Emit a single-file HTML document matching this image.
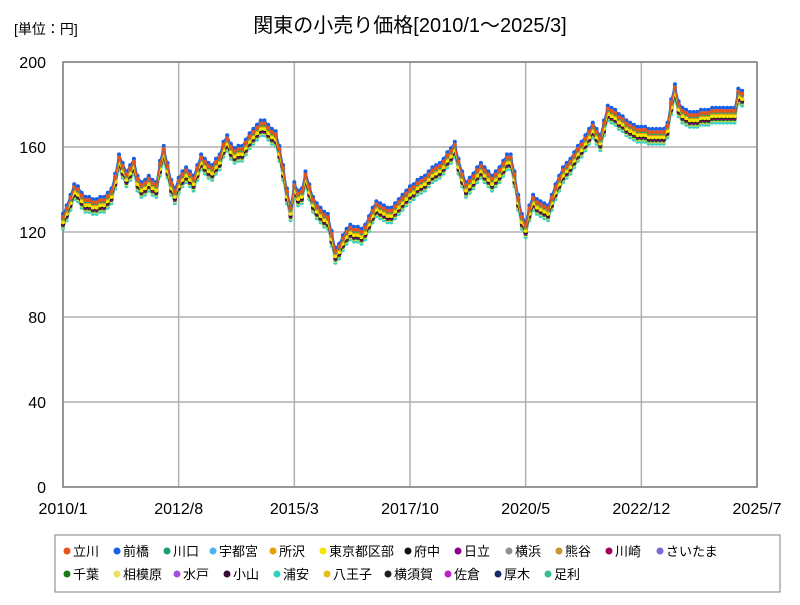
<!DOCTYPE html>
<html><head><meta charset="utf-8">
<style>
body{margin:0;background:#fff;}
#wrap{position:relative;width:800px;height:600px;font-family:"Liberation Sans","Noto Sans CJK JP",sans-serif;}
svg text{font-family:"Liberation Sans","Noto Sans CJK JP",sans-serif;}
</style></head>
<body>
<div id="wrap">
<svg id="chart" width="800" height="600"></svg>
</div>
<script>
const categoriesStart = [2010, 1];
const xTickLabels = ["2010/1","2012/8","2015/3","2017/10","2020/5","2022/12","2025/7"];
const yTickLabels = [0,40,80,120,160,200];
const seriesNames = ["立川","前橋","川口","宇都宮","所沢","東京都区部","府中","日立","横浜","熊谷","川崎","さいたま","千葉","相模原","水戸","小山","浦安","八王子","横須賀","佐倉","厚木","足利"];
const seriesColors = ["#e8541c","#1a5fe8","#1a9e77","#4fb3f0","#e8a000","#f5e400","#111111","#8a008a","#909090","#c8962a","#a0005a","#7a68d8","#1a7a1a","#f0e060","#a050e0","#3a0a3a","#30d0c0","#e0c020","#202020","#c020c0","#1a2a6a","#30c090"];
const seriesOffsets = [1,2.5,0.5,2,0,-1.5,-2,-2.5,0,-1,-0.5,0.5,-3,-3.5,-1.5,-2.5,-4.5,-1,-2,-1.5,0.5,1];
const baseValues = [
126,130,135,140,139,136,134,134,133,133,134,134,
136,138,145,154,150,146,149,152,144,141,142,144,
142,141,151,158,150,142,138,143,146,148,146,144,
149,154,152,150,149,152,154,160,163,159,157,158,
158,161,164,166,168,170,170,168,166,165,158,149,
138,130,141,137,138,146,140,134,131,129,127,126,
118,110,112,116,119,121,120,120,119,121,125,129,
132,131,130,129,129,131,133,135,137,139,140,142,
143,144,146,148,149,150,152,155,157,160,152,146,
141,143,145,148,150,148,146,144,146,148,151,154,
154,146,135,126,122,130,135,133,132,131,130,135,
140,144,148,150,152,155,158,160,163,166,169,166,
163,170,177,176,175,173,172,170,169,168,167,167,
167,166,166,166,166,166,169,180,187,179,176,175,
174,174,174,175,175,175,176,176,176,176,176,176,
176,185,184];

const NS="http://www.w3.org/2000/svg";
const svg=document.getElementById('chart');
const X0=63,X1=757,Y0=487,Y1=62,TOTALM=186;
function xs(m){return X0+(X1-X0)*m/TOTALM;}
function ys(v){return Y0-(Y0-Y1)*v/200;}
function mk(tag,attrs,parent){const e=document.createElementNS(NS,tag);for(const k in attrs)e.setAttribute(k,attrs[k]);(parent||svg).appendChild(e);return e;}

yTickLabels.forEach(v=>{
  const l=mk('line',{x1:X0,x2:X1,y1:ys(v),y2:ys(v),stroke:'#b0b0b0','stroke-width':1.5});
  
  
  const t=mk('text',{x:46,y:ys(v)+6,'text-anchor':'end','font-size':16,fill:'#000'});
  t.textContent=v;
  
  
});
xTickLabels.forEach((s,i)=>{
  const p=s.split('/');const m=(+p[0]-categoriesStart[0])*12+(+p[1]-categoriesStart[1]);
  const l=mk('line',{x1:xs(m),x2:xs(m),y1:Y1,y2:Y0,stroke:'#b0b0b0','stroke-width':1.5});
  
  
  const t=mk('text',{x:xs(m),y:514,'text-anchor':'middle','font-size':16,fill:'#000'});
  t.textContent=s;
  
  
});
const frame=mk('rect',{x:X0,y:Y1,width:X1-X0,height:Y0-Y1,fill:'none',stroke:'#808080','stroke-width':1.5});



for(let si=seriesNames.length-1;si>=0;si--){
  const g=mk('g',{});
  
  
  const pts=baseValues.map((v,i)=>[xs(i),ys(v+seriesOffsets[si])]);
  const pl=mk('polyline',{points:pts.map(p=>p[0].toFixed(1)+','+p[1].toFixed(1)).join(' '),fill:'none',stroke:seriesColors[si],'stroke-width':1.2},g);
  
  
  pts.forEach(p=>{
    const c=mk('circle',{cx:p[0].toFixed(1),cy:p[1].toFixed(1),r:2,fill:seriesColors[si]},g);
    
    
  });
}

const title=mk('text',{x:410,y:32,'text-anchor':'middle','font-size':20,fill:'#000'});
title.textContent='関東の小売り価格[2010/1～2025/3]';


const unit=mk('text',{x:14,y:34,'font-size':14,fill:'#000'});
unit.textContent='[単位：円]';



const lg=mk('rect',{x:55,y:535,width:725,height:57,fill:'#fff',stroke:'#808080','stroke-width':1});


const legendX=[67,117,167,213,273,323,408,458,509,559,609,660,67,117,177,227,277,327,388,448,498,548];
seriesNames.forEach((name,i)=>{
  const row=i<12?0:1;const y=row?574:551;const x=legendX[i];
  const c=mk('circle',{cx:x,cy:y,r:3.5,fill:seriesColors[i]});
  
  
  const t=mk('text',{x:x+6,y:y+5,'font-size':13,fill:'#000'});
  t.textContent=name;
  
  
});
</script>
</body></html>
